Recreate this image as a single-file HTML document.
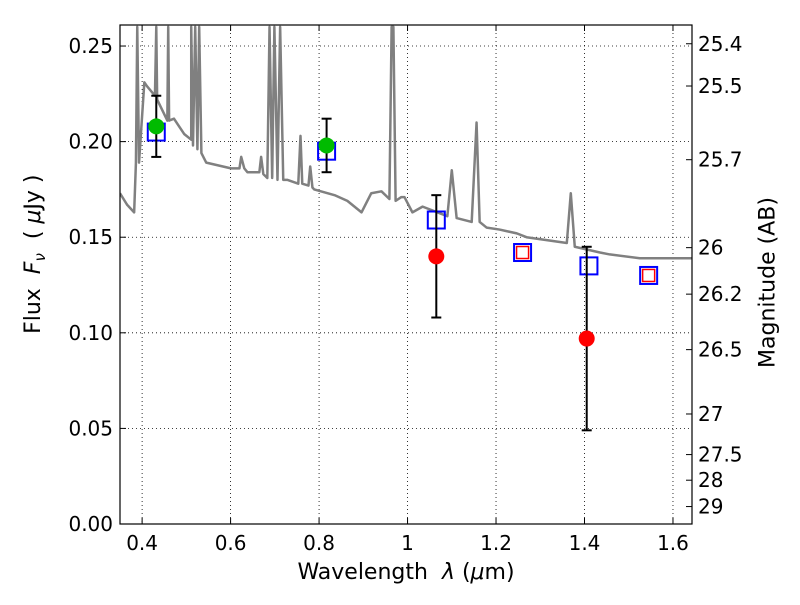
<!DOCTYPE html>
<html><head><meta charset="utf-8"><style>
body{margin:0;background:#fff}
svg{font-family:"DejaVu Sans","Liberation Sans",sans-serif}
</style></head><body>
<svg id="c" width="800" height="600"></svg>
<script>
const specWave=[0.35,0.366,0.382,0.386,0.389,0.393,0.405,0.411,0.429,0.432,0.434,0.457,0.459,0.461,0.472,0.495,0.511,0.511,0.515,0.52,0.525,0.529,0.534,0.545,0.601,0.62,0.624,0.631,0.638,0.665,0.669,0.674,0.683,0.688,0.694,0.699,0.706,0.712,0.719,0.728,0.753,0.758,0.762,0.776,0.78,0.785,0.789,0.835,0.864,0.896,0.918,0.941,0.959,0.964,0.968,0.973,0.986,0.993,1.011,1.034,1.079,1.09,1.1,1.111,1.145,1.156,1.163,1.179,1.208,1.247,1.269,1.36,1.369,1.378,1.435,1.457,1.525,1.586,1.643];
const specFlux=[0.173,0.167,0.163,0.189,0.26,0.189,0.231,0.229,0.224,0.26,0.222,0.211,0.26,0.211,0.212,0.204,0.201,0.26,0.198,0.26,0.196,0.26,0.194,0.189,0.186,0.186,0.192,0.186,0.184,0.184,0.192,0.183,0.181,0.26,0.181,0.26,0.18,0.26,0.18,0.18,0.178,0.203,0.178,0.177,0.187,0.176,0.175,0.172,0.169,0.163,0.173,0.174,0.17,0.26,0.26,0.169,0.171,0.171,0.163,0.166,0.162,0.161,0.185,0.16,0.158,0.21,0.158,0.155,0.154,0.152,0.15,0.147,0.173,0.145,0.142,0.141,0.139,0.139,0.139];
const photWave=[0.432,0.817];
const photFlux=[0.208,0.198];
const photErr=[0.016,0.014];
const modelWave=[0.432,0.817,1.065,1.26,1.41,1.545];
const modelFlux=[0.205,0.195,0.159,0.142,0.135,0.130];
const redWave=[1.065,1.405];
const redFlux=[0.140,0.097];
const redErr=[0.032,0.048];
const redSqWave=[1.26,1.545];
const redSqFlux=[0.142,0.130];
const xTicks=[0.4,0.6,0.8,1.0,1.2,1.4,1.6];
const xTickLabels=["0.4","0.6","0.8","1","1.2","1.4","1.6"];
const yTicks=[0,0.05,0.1,0.15,0.2,0.25];
const yTickLabels=["0.00","0.05","0.10","0.15","0.20","0.25"];
const magTicks=[25.4,25.5,25.7,26,26.2,26.5,27,27.5,28,29];
const magTickLabels=["25.4","25.5","25.7","26","26.2","26.5","27","27.5","28","29"];

const L=120,R=692,T=25,B=524,x0=0.35,x1=1.643,y0=0,y1=0.261;
const X=v=>L+(v-x0)/(x1-x0)*(R-L);
const Y=v=>B-(v-y0)/(y1-y0)*(B-T);
const svg=document.getElementById('c');
const NS='http://www.w3.org/2000/svg';
function mk(tag,at,parent){const e=document.createElementNS(NS,tag);for(const k in at)e.setAttribute(k,at[k]);(parent||svg).appendChild(e);return e;}
const defs=mk('defs',{});const cp=mk('clipPath',{id:'clip'},defs);mk('rect',{x:L,y:T,width:R-L,height:B-T},cp);
xTicks.forEach((t,i)=>{
 const g=mk('line',{x1:X(t),x2:X(t),y1:T,y2:B,stroke:'#000','stroke-dasharray':'1,3','stroke-width':0.8});
 
 
 mk('line',{x1:X(t),x2:X(t),y1:B,y2:B-6,stroke:'#000'});
 mk('line',{x1:X(t),x2:X(t),y1:T,y2:T+6,stroke:'#000'});
 const tx=mk('text',{x:X(t),y:B+26,'text-anchor':'middle','font-size':20});tx.textContent=xTickLabels[i];
 
 
});
yTicks.forEach((t,i)=>{
 const g=mk('line',{x1:L,x2:R,y1:Y(t),y2:Y(t),stroke:'#000','stroke-dasharray':'1,3','stroke-width':0.8});
 
 
 mk('line',{x1:L,x2:L+6,y1:Y(t),y2:Y(t),stroke:'#000'});
 const tx=mk('text',{x:L-7,y:Y(t)+7,'text-anchor':'end','font-size':20});tx.textContent=yTickLabels[i];
 
 
});
magTicks.forEach((m,i)=>{
 const f=Math.pow(10,(23.9-m)/2.5);
 mk('line',{x1:R,x2:R-6,y1:Y(f),y2:Y(f),stroke:'#000'});
 const tx=mk('text',{x:R+6,y:Y(f)+7,'font-size':20});tx.textContent=magTickLabels[i];
 
 
});
const sp=mk('polyline',{points:specWave.map((w,i)=>X(w)+','+Y(specFlux[i])).join(' '),fill:'none',stroke:'#808080','stroke-width':2.5,'stroke-linejoin':'round','clip-path':'url(#clip)'});


modelWave.forEach((w,i)=>{const r=mk('rect',{x:X(w)-8.5,y:Y(modelFlux[i])-8.5,width:17,height:17,fill:'none',stroke:'#0000ff','stroke-width':2});
 
 });
redSqWave.forEach((w,i)=>{const r=mk('rect',{x:X(w)-6,y:Y(redSqFlux[i])-6,width:12,height:12,fill:'none',stroke:'#ff0000','stroke-width':1.5});
 
 });
function err(w,f,e,col,name){
 const g=mk('g',{});
 
 
 mk('line',{x1:X(w),x2:X(w),y1:Y(f-e),y2:Y(f+e),stroke:'#000','stroke-width':2},g);
 mk('line',{x1:X(w)-5,x2:X(w)+5,y1:Y(f-e),y2:Y(f-e),stroke:'#000','stroke-width':2},g);
 mk('line',{x1:X(w)-5,x2:X(w)+5,y1:Y(f+e),y2:Y(f+e),stroke:'#000','stroke-width':2},g);
 mk('circle',{cx:X(w),cy:Y(f),r:8,fill:col},g);
}
photWave.forEach((w,i)=>err(w,photFlux[i],photErr[i],'#00bb00','detected-point'));
redWave.forEach((w,i)=>err(w,redFlux[i],redErr[i],'#ff0000','low-sn-point'));
const fr=mk('rect',{x:L,y:T,width:R-L,height:B-T,fill:'none',stroke:'#000','stroke-width':1.2});


</script>
<div style="position:absolute;left:0;top:0;width:800px;height:600px;pointer-events:none">
<div style="position:absolute;left:0;width:812px;top:560px;text-align:center;font:22px 'DejaVu Sans',sans-serif">Wavelength&nbsp; <i>λ</i> (<i>μ</i>m)</div>
<div style="position:absolute;left:-85px;top:240px;width:240px;text-align:center;transform:rotate(-90deg);font:22px 'DejaVu Sans',sans-serif">Flux&nbsp; <i>F<sub style="font-size:15px">ν</sub></i>&nbsp; ( <i>μ</i>Jy )</div>
<div style="position:absolute;left:648px;top:270px;width:240px;text-align:center;transform:rotate(-90deg);font:22px 'DejaVu Sans',sans-serif">Magnitude (AB)</div>
</div>
</body></html>
